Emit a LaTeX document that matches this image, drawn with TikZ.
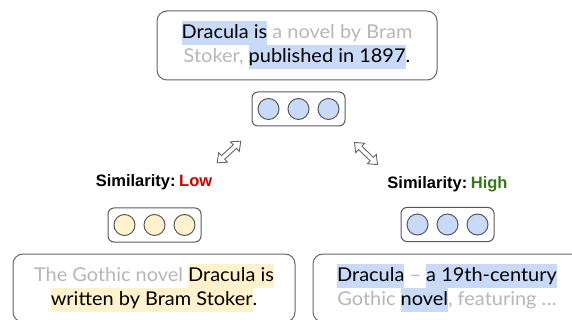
\documentclass[tikz,border=0pt]{standalone}
\usepackage{fontspec}
\setmainfont{Lato}[FakeStretch=1.05]
\newfontfamily\labelfont{Liberation Sans}
\usetikzlibrary{positioning}

\definecolor{hlblue}{HTML}{C9DAF8}
\definecolor{hlyellow}{HTML}{FFF2CC}
\definecolor{fadetext}{HTML}{B7B7B7}
\definecolor{edgegray}{HTML}{666666}
\definecolor{circgray}{HTML}{595959}
\definecolor{lowred}{HTML}{CC0000}
\definecolor{highgreen}{HTML}{38761D}

% strut spanning one full text line, so highlights of adjacent lines touch
\newcommand{\hlstrut}{\rule[-6.5pt]{0pt}{24pt}}
\newcommand{\hlb}[1]{{\setlength{\fboxsep}{0pt}\colorbox{hlblue}{\hlstrut#1}}}
\newcommand{\hly}[1]{{\setlength{\fboxsep}{0pt}\colorbox{hlyellow}{\hlstrut#1}}}
\newcommand{\fade}[1]{\textcolor{fadetext}{#1}}

\tikzset{
  textbox/.style={draw=edgegray, line width=1pt, rounded corners=10pt,
    fill=white, align=center, inner sep=0pt,
    font=\fontsize{19}{24}\selectfont},
  vecbox/.style={draw=circgray, line width=1pt, rounded corners=6pt,
    minimum width=93pt, minimum height=34pt, inner sep=0pt},
  cell/.style={circle, draw=circgray, line width=1pt, minimum size=21pt,
    inner sep=0pt},
  simlabel/.style={font=\labelfont\bfseries\fontsize{16.5}{20}\selectfont,
    inner sep=0pt},
  dblarrow/.pic={
    \draw[edgegray, line width=0.9pt, fill=white, line join=miter]
      (-16,0) -- (-8,6.5) -- (-8,2.4) -- (8,2.4) -- (8,6.5) -- (16,0)
      -- (8,-6.5) -- (8,-2.4) -- (-8,-2.4) -- (-8,-6.5) -- cycle;
  }
}

\begin{document}
\begin{tikzpicture}[x=1pt, y=-1pt]
\useasboundingbox (0,0) rectangle (572,320);
\clip (0,0) rectangle (572,320);

% query sentence and its embedding
\node[textbox, minimum width=280pt, minimum height=69pt] (query) at (297,45.5)
  {\hlb{Dracula is} \fade{a novel by Bram}\hlstrut\\
   \fade{Stoker,} \hlb{published in 1897}.\hlstrut};
\node[vecbox] (qvec) at (298.5,109) {};
\foreach \i/\dx in {1/-30,2/0,3/30}
  \node[cell, fill=hlblue] (q\i) at ([xshift=\dx pt]qvec.center) {};

% comparison arrows
\pic[rotate=42.5] (lowarrow) at (229,152) {dblarrow};
\pic[rotate=-43.8] (higharrow) at (366,153.5) {dblarrow};

% similarity verdicts
\node[simlabel] (lowlabel) at (154,182.5)
  {Similarity:\hspace{0.22em}\textcolor{lowred}{Low}};
\node[simlabel] (highlabel) at (447.5,184)
  {Similarity:\hspace{0.22em}\textcolor{highgreen}{High}};

% candidate embeddings
\node[vecbox] (lowvec) at (154.5,225) {};
\foreach \i/\dx in {1/-30,2/0,3/30}
  \node[cell, fill=hlyellow] (l\i) at ([xshift=\dx pt]lowvec.center) {};
\node[vecbox] (highvec) at (447.5,224.5) {};
\foreach \i/\dx in {1/-30,2/0,3/30}
  \node[cell, fill=hlblue] (h\i) at ([xshift=\dx pt]highvec.center) {};

% candidate passages
\node[textbox, minimum width=282pt, minimum height=68pt] (lowdoc) at (154,288)
  {\fade{The Gothic novel} \hly{Dracula is}\hlstrut\\
   \hly{written by Bram Stoker}.\hlstrut};
\node[textbox, minimum width=268pt, minimum height=68pt] (highdoc) at (447,288)
  {\hlb{Dracula} \fade{--} \hlb{a 19th-century}\hlstrut\\
   \fade{Gothic} \hlb{novel}\fade{, featuring …}\hlstrut};
\end{tikzpicture}
\end{document}
